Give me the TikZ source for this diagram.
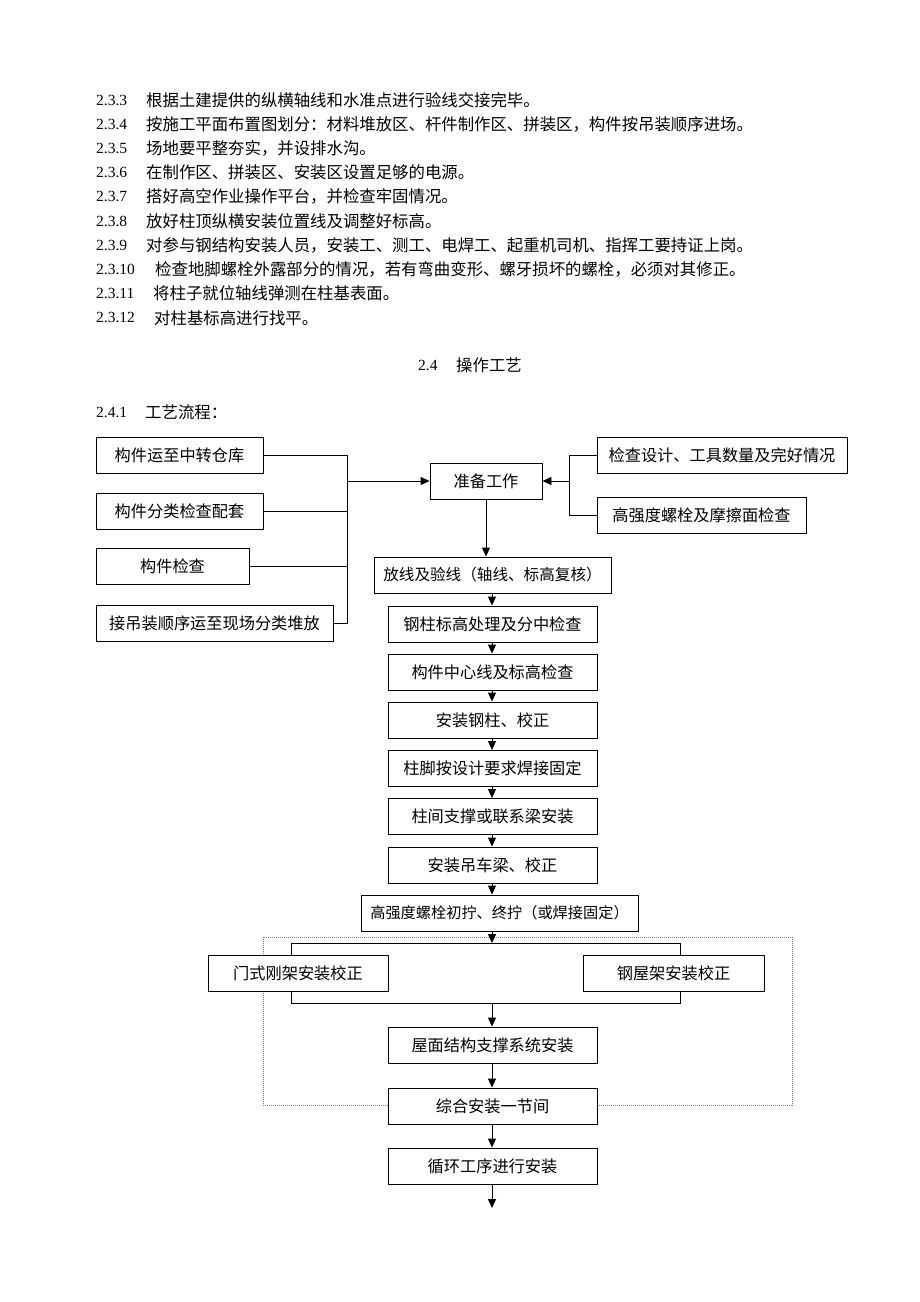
\documentclass[tikz,border=0pt]{standalone}
\usepackage{fontspec}
\setmainfont{Liberation Serif}
\newfontfamily\cjk{Noto Sans CJK SC}
\usetikzlibrary{arrows.meta}
\begin{document}
\begin{tikzpicture}[x=1pt,y=-1pt,
  box/.style={draw, line width=0.9pt, fill=white, minimum height=36pt, inner sep=0pt, font=\cjk\fontsize{16.2}{19}\selectfont},
  num/.style={anchor=west, inner sep=0pt, font=\fontsize{15.5}{18}\selectfont},
  txt/.style={anchor=west, inner sep=0pt, font=\cjk\fontsize{16.4}{19}\selectfont},
  arr/.style={line width=0.9pt, -{Triangle[length=9pt,width=8pt]}},
  ln/.style={line width=0.9pt},
  dots/.style={gray, line width=0.8pt, dash pattern=on 1pt off 1pt}]
\fill[white] (0,0) rectangle (920,1302);
\useasboundingbox (0,0) rectangle (920,1302);

% ---- top text ----
\node[num] (n1) at (96,100) {2.3.3};   \node[txt] (t1) at (146,100) {根据土建提供的纵横轴线和水准点进行验线交接完毕。};
\node[num] (n2) at (96,124.2) {2.3.4}; \node[txt] (t2) at (146,124.2) {按施工平面布置图划分：材料堆放区、杆件制作区、拼装区，构件按吊装顺序进场。};
\node[num] (n3) at (96,148.4) {2.3.5}; \node[txt] (t3) at (146,148.4) {场地要平整夯实，并设排水沟。};
\node[num] (n4) at (96,172.6) {2.3.6}; \node[txt] (t4) at (146,172.6) {在制作区、拼装区、安装区设置足够的电源。};
\node[num] (n5) at (96,196.8) {2.3.7}; \node[txt] (t5) at (146,196.8) {搭好高空作业操作平台，并检查牢固情况。};
\node[num] (n6) at (96,221) {2.3.8};   \node[txt] (t6) at (146,221) {放好柱顶纵横安装位置线及调整好标高。};
\node[num] (n7) at (96,245.2) {2.3.9}; \node[txt] (t7) at (146,245.2) {对参与钢结构安装人员，安装工、测工、电焊工、起重机司机、指挥工要持证上岗。};
\node[num] (n8) at (96,269.4) {2.3.10}; \node[txt] (t8) at (155,269.4) {检查地脚螺栓外露部分的情况，若有弯曲变形、螺牙损坏的螺栓，必须对其修正。};
\node[num] (n9) at (96,293.6) {2.3.11}; \node[txt] (t9) at (153,293.6) {将柱子就位轴线弹测在柱基表面。};
\node[num] (n10) at (96,317.8) {2.3.12}; \node[txt] (t10) at (154,317.8) {对柱基标高进行找平。};

\node[num] (h1) at (418,365) {2.4}; \node[txt] (h2) at (456,365) {操作工艺};
\node[num] (s1) at (96,412) {2.4.1}; \node[txt] (s2) at (145,412) {工艺流程：};

% ---- dotted frame ----
\draw[dots] (263,937) rectangle (792,1105);

% ---- boxes ----
\node[box, minimum width=167pt] (l1) at (179.5,455) {构件运至中转仓库};
\node[box, minimum width=167pt] (l2) at (179.5,511.5) {构件分类检查配套};
\node[box, minimum width=153pt] (l3) at (172.5,566.5) {构件检查};
\node[box, minimum width=237pt] (l4) at (214.5,623.5) {接吊装顺序运至现场分类堆放};
\node[box, minimum width=112pt] (prep) at (486,481) {准备工作};
\node[box, minimum width=250pt] (r1) at (722,455) {检查设计、工具数量及完好情况};
\node[box, minimum width=209pt] (r2) at (701.5,515) {高强度螺栓及摩擦面检查};
\node[box, minimum width=237pt, font=\cjk\fontsize{15.6}{19}\selectfont] (m1) at (492.5,575) {放线及验线（轴线、标高复核）};
\node[box, minimum width=209pt] (m2) at (492.5,624) {钢柱标高处理及分中检查};
\node[box, minimum width=209pt] (m3) at (492.5,672) {构件中心线及标高检查};
\node[box, minimum width=209pt] (m4) at (492.5,720) {安装钢柱、校正};
\node[box, minimum width=209pt] (m5) at (492.5,768.5) {柱脚按设计要求焊接固定};
\node[box, minimum width=209pt] (m6) at (492.5,816.5) {柱间支撑或联系梁安装};
\node[box, minimum width=209pt] (m7) at (492.5,865) {安装吊车梁、校正};
\node[box, minimum width=277pt, font=\cjk\fontsize{15.2}{19}\selectfont] (m8) at (499.5,913) {高强度螺栓初拧、终拧（或焊接固定）};
\node[box, minimum width=180pt] (g1) at (298,973.5) {门式刚架安装校正};
\node[box, minimum width=181pt] (g2) at (673.5,973.5) {钢屋架安装校正};
\node[box, minimum width=209pt] (m9) at (492.5,1045) {屋面结构支撑系统安装};
\node[box, minimum width=209pt] (m10) at (492.5,1106) {综合安装一节间};
\node[box, minimum width=209pt] (m11) at (492.5,1166) {循环工序进行安装};

% ---- coordinates ----
\coordinate (lv) at (347,0);
\coordinate (rv) at (569,0);
\coordinate (bl) at (291,0);
\coordinate (br) at (680,0);
\coordinate (mx) at (492,0);
\coordinate (btop) at (492,943);
\coordinate (bbot) at (492,1003);
\coordinate (endpt) at (492,1208);

% ---- left group ----
\draw[ln] (l1.east) -- (l1.east -| lv);
\draw[ln] (l2.east) -- (l2.east -| lv);
\draw[ln] (l3.east) -- (l3.east -| lv);
\draw[ln] (l4.east) -- (l4.east -| lv);
\draw[ln] (l1.east -| lv) -- (l4.east -| lv);
\draw[arr] (prep.west -| lv) -- (prep.west);
% ---- right group ----
\draw[ln] (r1.west) -- (r1.west -| rv) -- (r2.west -| rv) -- (r2.west);
\draw[arr] (prep.east -| rv) -- (prep.east);
% ---- main chain ----
\draw[arr] (prep.south) -- (prep.south |- m1.north);
\draw[arr] (m1.south -| mx) -- (m2.north -| mx);
\draw[arr] (m2.south -| mx) -- (m3.north -| mx);
\draw[arr] (m3.south -| mx) -- (m4.north -| mx);
\draw[arr] (m4.south -| mx) -- (m5.north -| mx);
\draw[arr] (m5.south -| mx) -- (m6.north -| mx);
\draw[arr] (m6.south -| mx) -- (m7.north -| mx);
\draw[arr] (m7.south -| mx) -- (m8.north -| mx);
\draw[arr] (m8.south -| mx) -- (btop);
% ---- bracket ----
\draw[ln] (g1.north -| bl) -- (btop -| bl) -- (btop -| br) -- (g2.north -| br);
\draw[ln] (g1.south -| bl) -- (bbot -| bl) -- (bbot -| br) -- (g2.south -| br);
\draw[arr] (bbot) -- (m9.north -| mx);
\draw[arr] (m9.south -| mx) -- (m10.north -| mx);
\draw[arr] (m10.south -| mx) -- (m11.north -| mx);
\draw[arr] (m11.south -| mx) -- (endpt);
\end{tikzpicture}
\end{document}
